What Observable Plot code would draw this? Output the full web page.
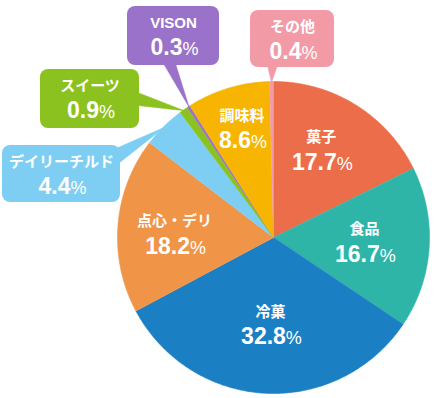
<!DOCTYPE html>
<html><head><meta charset="utf-8">
<script src="https://cdn.jsdelivr.net/npm/d3@7"></script>
<script src="https://cdn.jsdelivr.net/npm/@observablehq/plot@0.6"></script>
<style>html,body{margin:0;padding:0;background:#fff}#chart svg{display:block}</style>
</head><body><div id="chart"></div>
<script>
// ---- data ----
const categories = ["菓子","食品","冷菓","点心・デリ","デイリーチルド","スイーツ","VISON","調味料","その他"];
const shares = [17.7,16.7,32.8,18.2,4.4,0.9,0.3,8.6,0.4];
const valueLabels = ["17.7%","16.7%","32.8%","18.2%","4.4%","0.9%","0.3%","8.6%","0.4%"];
const colors = ["#ec6d4a","#2eb5a8","#1b7fc4","#f09447","#7ecef4","#8cc21f","#9b72c9","#f7b400","#f29ba7"];

// ---- layout ----
const W = 435, H = 398, CX = 273, CY = 237, R = 156;
const insideLayout = {
  "菓子": {r: 100, da: -3.3},
  "食品": {r: 91, da: -1},
  "冷菓": {r: 87, da: -0.9},
  "点心・デリ": {r: 99, da: -2.7},
  "調味料": {r: 113.5, da: 0.8}
};
const calloutLayout = {
  "VISON": {x: 127, y: 6, w: 92, h: 59, base: [[163, 63], [175, 63]]},
  "その他": {x: 250, y: 10, w: 84, h: 57, base: [[267, 65], [277, 65]]},
  "スイーツ": {x: 40, y: 69, w: 99, h: 59, base: [[137, 92], [137, 105]]},
  "デイリーチルド": {x: 2, y: 145, w: 118, h: 57, base: [[113, 149], [118, 163]]}
};
const labelFont = "'Liberation Sans','Noto Sans CJK JP',sans-serif";

// ---- geometry from data ----
const arcs = d3.pie().sort(null).startAngle(0).endAngle(2 * Math.PI)(shares);
const polar = (a, r) => ({x: CX + r * Math.sin(a), y: CY - r * Math.cos(a)});

const sliceRows = [];
arcs.forEach((a, i) => {
  const cat = categories[i];
  sliceRows.push({cat, ...polar(0, 0)});
  const n = Math.max(2, Math.ceil((a.endAngle - a.startAngle) / 0.01));
  for (let k = 0; k <= n; k++) {
    const t = a.startAngle + (a.endAngle - a.startAngle) * k / n;
    sliceRows.push({cat, ...polar(t, R)});
  }
});

const nameRows = [], valueRows = [], boxRows = [], pointerRows = [];
arcs.forEach((a, i) => {
  const cat = categories[i];
  const mid = (a.startAngle + a.endAngle) / 2;
  if (insideLayout[cat]) {
    const L = insideLayout[cat];
    const p = polar(mid + L.da * Math.PI / 180, L.r);
    nameRows.push({text: cat, x: p.x, y: p.y - 12.5});
    valueRows.push({text: valueLabels[i], x: p.x + 1, y: p.y + 12.5});
  } else if (calloutLayout[cat]) {
    const c = calloutLayout[cat];
    boxRows.push({cat, x1: c.x, x2: c.x + c.w, y1: c.y, y2: c.y + c.h});
    const tip = polar(mid, R - 1);
    pointerRows.push({cat, x: c.base[0][0], y: c.base[0][1]});
    pointerRows.push({cat, x: tip.x, y: tip.y});
    pointerRows.push({cat, x: c.base[1][0], y: c.base[1][1]});
    nameRows.push({text: cat, x: c.x + c.w / 2, y: c.y + 17});
    valueRows.push({text: valueLabels[i], x: c.x + c.w / 2 + 1, y: c.y + 41});
  }
});

const chart = Plot.plot({
  width: W, height: H,
  margin: 0,
  x: {domain: [0, W], range: [0, W], axis: null},
  y: {domain: [0, H], range: [0, H], axis: null},
  color: {domain: categories, range: colors},
  marks: [
    Plot.line(pointerRows, {x: "x", y: "y", z: "cat", fill: "cat", stroke: "cat", strokeWidth: 0.5, curve: "linear"}),
    Plot.line(sliceRows, {x: "x", y: "y", z: "cat", fill: "cat", stroke: "cat", strokeWidth: 0.6, curve: "linear"}),
    Plot.rect(boxRows, {x1: "x1", x2: "x2", y1: "y1", y2: "y2", fill: "cat", rx: 8}),
    Plot.text(nameRows, {x: "x", y: "y", text: "text", fill: "white", fontSize: 15, fontWeight: "bold", fontFamily: labelFont}),
    Plot.text(valueRows, {x: "x", y: "y", text: "text", fill: "white", fontSize: 23, fontWeight: "bold", fontFamily: labelFont})
  ]
});

chart.querySelectorAll("text").forEach(el => {
  const s = el.textContent;
  if (s.endsWith("%") && !el.querySelector("tspan")) {
    while (el.firstChild) el.removeChild(el.firstChild);
    el.appendChild(document.createTextNode(s.slice(0, -1)));
    const ts = document.createElementNS("http://www.w3.org/2000/svg", "tspan");
    ts.setAttribute("font-size", "18");
    ts.setAttribute("font-weight", "normal");
    ts.style.fontSize = "18px";
    ts.style.fontWeight = "normal";
    ts.textContent = "%";
    el.appendChild(ts);
  }
});

document.getElementById("chart").appendChild(chart);
</script>
</body></html>
